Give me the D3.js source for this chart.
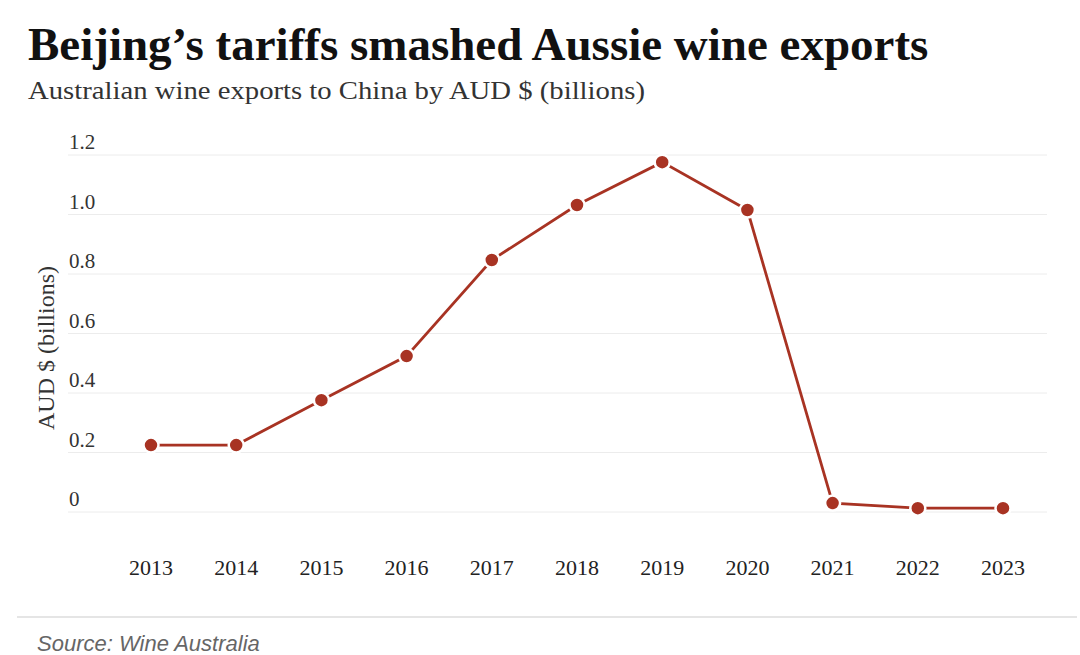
<!DOCTYPE html>
<html><head><meta charset="utf-8">
<script src="https://cdn.jsdelivr.net/npm/d3@7"></script>
<style>body{margin:0;background:#fff;} svg{display:block;}</style>
</head><body>
<svg id="c" width="1080" height="655"></svg>
<script>
const years = ["2013","2014","2015","2016","2017","2018","2019","2020","2021","2022","2023"];
const values = [0.225,0.225,0.376,0.524,0.847,1.032,1.176,1.015,0.03,0.013,0.013];
const yTicks = [0,0.2,0.4,0.6,0.8,1.0,1.2];
const yTickLabels = ["0","0.2","0.4","0.6","0.8","1.0","1.2"];

const svg = d3.select("#c");
const serif = "'Liberation Serif', 'DejaVu Serif', serif";
const color = "#a83323";

svg.append("text").attr("x",28).attr("y",60).attr("font-family",serif).attr("font-weight","bold")
  .attr("font-size",47).attr("fill","#111").text("Beijing’s tariffs smashed Aussie wine exports");
svg.append("text").attr("x",28).attr("y",99).attr("font-family",serif)
  .attr("font-size",26).attr("fill","#333").attr("textLength",617).attr("lengthAdjust","spacingAndGlyphs")
  .text("Australian wine exports to China by AUD $ (billions)");

const x = d3.scalePoint().domain(years).range([151,1003]);
const y = d3.scaleLinear().domain([0,1.2]).range([512,155]);

const grid = svg.append("g");
grid.selectAll("line").data(yTicks).join("line")
  .attr("x1",68).attr("x2",1047).attr("y1",d=>y(d)).attr("y2",d=>y(d))
  .attr("stroke","#ececec").attr("stroke-width",1);
grid.selectAll("text").data(yTicks).join("text")
  .attr("x",69).attr("y",d=>y(d)-6).attr("font-family",serif).attr("font-size",21).attr("fill","#333")
  .text((d,i)=>yTickLabels[i]);

svg.append("text").attr("transform","translate(54,348) rotate(-90)").attr("text-anchor","middle")
  .attr("font-family",serif).attr("font-size",24).attr("fill","#333").text("AUD $ (billions)");

svg.append("g").selectAll("text").data(years).join("text")
  .attr("x",d=>x(d)).attr("y",575).attr("text-anchor","middle").attr("font-family",serif)
  .attr("font-size",22).attr("fill","#222").text(d=>d);

const line = d3.line().x((d,i)=>x(years[i])).y(d=>y(d));
svg.append("path").datum(values).attr("d",line).attr("fill","none").attr("stroke",color).attr("stroke-width",2.8);
svg.append("g").selectAll("circle").data(values).join("circle")
  .attr("cx",(d,i)=>x(years[i])).attr("cy",d=>y(d)).attr("r",7.5)
  .attr("fill",color).attr("stroke","#fff").attr("stroke-width",2.5);

svg.append("line").attr("x1",17).attr("x2",1077).attr("y1",617).attr("y2",617).attr("stroke","#ddd").attr("stroke-width",1.5);
svg.append("text").attr("x",37).attr("y",651).attr("font-family","'Liberation Sans', Arial, sans-serif")
  .attr("font-style","italic").attr("font-size",22).attr("fill","#666").text("Source: Wine Australia");
</script>
</body></html>
